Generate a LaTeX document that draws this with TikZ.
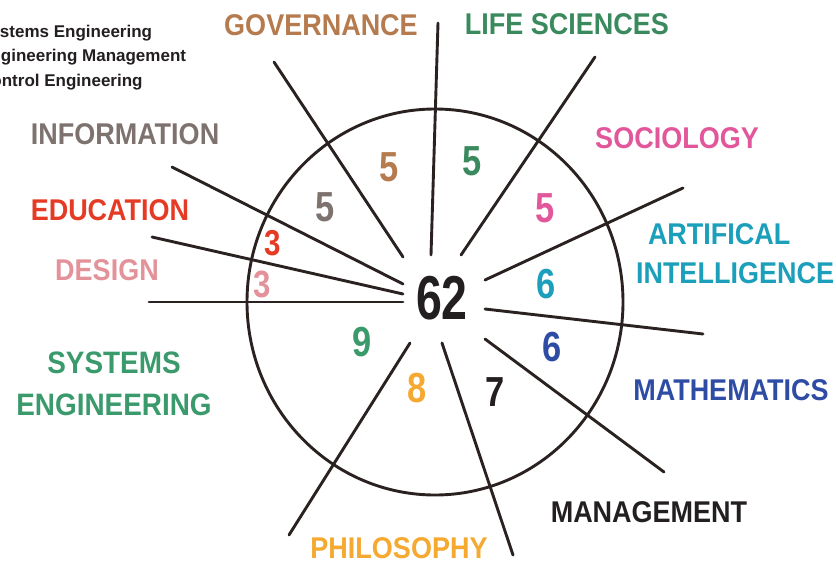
\documentclass[tikz,border=0pt]{standalone}
\usepackage{fontspec}
\newfontfamily\labelfont{Liberation Sans}[FakeStretch=0.9]
\newfontfamily\numfont{Liberation Sans}[FakeStretch=0.82]
\newfontfamily\hubfont{Liberation Sans}[FakeStretch=0.75]
\newfontfamily\notefont{Liberation Sans}

\definecolor{govbrown}{HTML}{B57B4E}
\definecolor{lifegreen}{HTML}{3A8A5E}
\definecolor{infogray}{HTML}{7D726E}
\definecolor{socpink}{HTML}{E2579B}
\definecolor{edured}{HTML}{E53A24}
\definecolor{designpink}{HTML}{E3929A}
\definecolor{aiteal}{HTML}{1B9FBA}
\definecolor{mathblue}{HTML}{2F4CA5}
\definecolor{sysgreen}{HTML}{3A9A6C}
\definecolor{philorange}{HTML}{F5A930}
\definecolor{mgmtblack}{HTML}{231F20}
\definecolor{spokeline}{HTML}{2A2220}

\begin{document}
\begin{tikzpicture}[x=1pt, y=-1pt,
  field/.style={inner sep=0pt, font=\labelfont\bfseries\fontsize{30}{39}\selectfont},
  count/.style={inner sep=0pt, font=\numfont\bfseries\fontsize{42}{42}\selectfont},
  spoke/.style={line width=2.9pt, draw=spokeline, line cap=round}]

\useasboundingbox (0, 0) rectangle (836, 563);
\clip (0, 0) rectangle (836, 563);

\node[anchor=base west, align=left, inner sep=0pt, text=mgmtblack, font=\notefont\bfseries\fontsize{17}{24.5}\selectfont] (subfields) at (-21, 86) {Systems Engineering\\Engineering Management\\Control Engineering};

% field names round the wheel
\node[field, text=govbrown] (governance) at (321, 25) {GOVERNANCE};

\node[field, text=lifegreen] (lifesciences) at (567, 24) {LIFE SCIENCES};

\node[field, text=infogray] (information) at (125, 134) {INFORMATION};

\node[field, text=socpink] (sociology) at (677, 138) {SOCIOLOGY};

\node[field, text=edured] (education) at (110, 210) {EDUCATION};

\node[field, text=aiteal, align=left] (artificial) at (735, 254) {\hspace*{12pt}ARTIFICAL\\INTELLIGENCE};

\node[field, text=designpink] (design) at (107, 270) {DESIGN};

\node[field, text=sysgreen, align=center, font=\labelfont\bfseries\fontsize{31}{42}\selectfont] (systems) at (114, 384) {SYSTEMS\\ENGINEERING};

\node[field, text=mathblue] (mathematics) at (731, 390) {MATHEMATICS};

\node[field, text=mgmtblack] (management) at (649, 512) {MANAGEMENT};

\node[field, text=philorange] (philosophy) at (399, 548) {PHILOSOPHY};

% counts in the sectors
\node[count, text=govbrown] (govcount) at (389, 167) {5};
\node[count, text=lifegreen] (lifecount) at (472, 161) {5};
\node[count, text=infogray] (infocount) at (325, 207) {5};
\node[count, text=socpink] (soccount) at (545, 208) {5};
\node[count, text=edured, font=\numfont\bfseries\fontsize{36}{36}\selectfont] (educount) at (273, 243) {3};
\node[count, text=designpink, font=\numfont\bfseries\fontsize{38}{38}\selectfont] (designcount) at (262, 284) {3};
\node[count, text=aiteal] (aicount) at (546, 284) {6};
\node[count, text=mathblue] (mathcount) at (552, 347) {6};
\node[count, text=sysgreen] (syscount) at (362, 342) {9};
\node[count, text=philorange] (philcount) at (417, 388) {8};
\node[count, text=mgmtblack] (mgmtcount) at (495, 392) {7};

\node[inner sep=0pt, text=mgmtblack, font=\hubfont\bfseries\fontsize{62}{62}\selectfont] (total) at (442, 298) {62};

% wheel and spokes
\coordinate (wheelcentre) at (435, 302);
\draw[spoke] (wheelcentre) ellipse [x radius=188pt, y radius=193pt];

\coordinate (govin) at (403, 257);        \coordinate (govout) at (274, 62);
\coordinate (lifein) at (431, 255);       \coordinate (lifeout) at (438, 23);
\coordinate (socin) at (461, 255);        \coordinate (socout) at (595, 57);
\coordinate (aiin) at (485, 280);         \coordinate (aiout) at (683, 188);
\coordinate (mathin) at (485, 309);       \coordinate (mathout) at (703, 334);
\coordinate (mgmtin) at (485, 339);       \coordinate (mgmtout) at (664, 472);
\coordinate (philin) at (442, 343);       \coordinate (philout) at (513, 555);
\coordinate (sysin) at (410, 343);        \coordinate (sysout) at (289, 535);
\coordinate (designin) at (403, 302);     \coordinate (designout) at (149, 302);
\coordinate (eduin) at (403, 294);        \coordinate (eduout) at (152, 237);
\coordinate (infoin) at (403, 284);       \coordinate (infoout) at (172, 167);

\draw[spoke] (govin) -- (govout);
\draw[spoke] (lifein) -- (lifeout);
\draw[spoke] (socin) -- (socout);
\draw[spoke] (aiin) -- (aiout);
\draw[spoke] (mathin) -- (mathout);
\draw[spoke] (mgmtin) -- (mgmtout);
\draw[spoke] (philin) -- (philout);
\draw[spoke] (sysin) -- (sysout);
\draw[spoke] (designin) -- (designout);
\draw[spoke] (eduin) -- (eduout);
\draw[spoke] (infoin) -- (infoout);

\end{tikzpicture}
\end{document}
